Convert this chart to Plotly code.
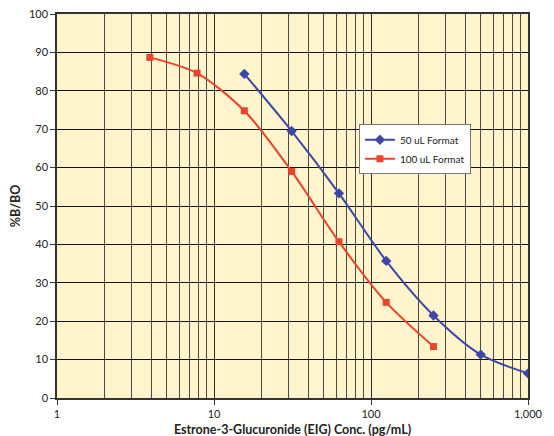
import plotly.graph_objects as go

conc_50 = [15.6, 31.25, 62.5, 125, 250, 500, 1000]
b_50 = [84.4, 69.5, 53.3, 35.7, 21.5, 11.3, 6.4]
conc_100 = [3.9, 7.8, 15.6, 31.25, 62.5, 125, 250]
b_100 = [88.7, 84.6, 74.8, 59.0, 40.7, 24.9, 13.4]

x_ticks = [1, 10, 100, 1000]
x_ticktext = ["1", "10", "100", "1,000"]
minor_vals = [m * d for d in [1, 10, 100] for m in range(2, 10)]

font = "Lato, Open Sans, DejaVu Sans, sans-serif"

fig = go.Figure()
fig.add_trace(go.Scatter(
    x=conc_50, y=b_50, mode="lines+markers", name="50 uL Format",
    line=dict(color="#3D47A6", width=2, shape="spline", smoothing=0.8),
    marker=dict(symbol="diamond", size=8, color="#3D47A6"),
))
fig.add_trace(go.Scatter(
    x=conc_100, y=b_100, mode="lines+markers", name="100 uL Format",
    line=dict(color="#E8452C", width=2, shape="spline", smoothing=0.8),
    marker=dict(symbol="square", size=7, color="#E8452C"),
))

fig.update_layout(
    width=554, height=436,
    margin=dict(l=49, r=34, t=6, b=46, autoexpand=False),
    paper_bgcolor="white",
    plot_bgcolor="#FFF4CC",
    font=dict(family=font, size=11, color="#222"),
    showlegend=True,
    legend=dict(
        x=0.641, y=0.713, xanchor="left", yanchor="top",
        bgcolor="white", bordercolor="#777", borderwidth=1,
        font=dict(size=10, color="#222"),
        tracegroupgap=0, itemwidth=30,
    ),
    xaxis=dict(
        type="log", range=[0, 3],
        tickvals=x_ticks, ticktext=x_ticktext,
        ticks="outside", ticklen=5, tickcolor="#333",
        showgrid=True, gridcolor="#2e2e28", gridwidth=1.3,
        minor=dict(tickvals=minor_vals, showgrid=True, gridcolor="#4a4a40", gridwidth=1.3, ticks=""),
        showline=True, linecolor="#333", linewidth=1.5, mirror=True,
        zeroline=False, automargin=False, ticklabeloverflow="allow",
        title=dict(text="<b>Estrone-3-Glucuronide (EIG) Conc. (pg/mL)</b>", font=dict(size=12.5), standoff=6),
        tickfont=dict(size=11),
    ),
    yaxis=dict(
        range=[0, 100], dtick=10,
        ticks="outside", ticklen=5, tickcolor="#333",
        showgrid=True, gridcolor="#111", gridwidth=1.3,
        showline=True, linecolor="#333", linewidth=1.5, mirror=True,
        zeroline=False, automargin=False, ticklabeloverflow="allow",
        title=dict(text="<b>%B/BO</b>", font=dict(size=12.5), standoff=10),
        tickfont=dict(size=11),
    ),
)

fig.write_html("out.html")
